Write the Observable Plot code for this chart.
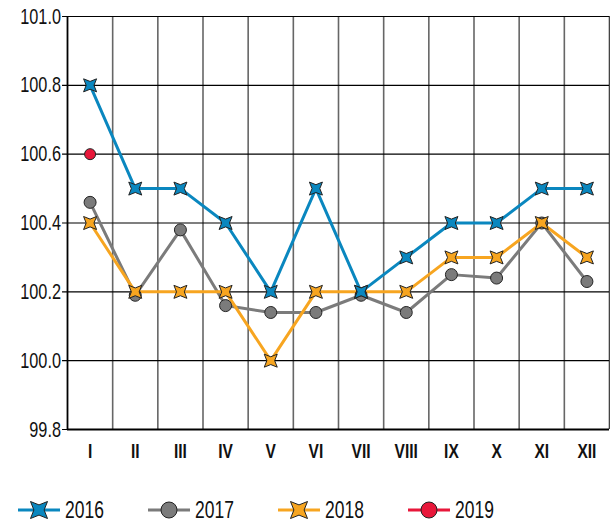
<!DOCTYPE html>
<html>
<head>
<meta charset="utf-8">
<script src="https://cdn.jsdelivr.net/npm/d3@7"></script>
<script src="https://cdn.jsdelivr.net/npm/@observablehq/plot@0.6"></script>
<style>
  html, body { margin: 0; padding: 0; background: #fff; }
  body { width: 610px; font-family: "Liberation Sans", Arial, sans-serif; }
  #legend { position: relative; height: 57px; }
  .item { position: absolute; top: 0; height: 57px; }
  .item svg { position: absolute; left: 0; top: 0; }
  .item span { position: absolute; top: 27px; font-size: 23px; line-height: 26px; color: #111;
               transform: scaleX(0.76); transform-origin: 0 50%; white-space: nowrap; }
</style>
</head>
<body>
<div id="chart"></div>
<div id="legend"></div>
<script>
const months = ["I","II","III","IV","V","VI","VII","VIII","IX","X","XI","XII"];
const years = ["2016","2017","2018","2019"];
const v2016 = [100.8, 100.5, 100.5, 100.4, 100.2, 100.5, 100.2, 100.3, 100.4, 100.4, 100.5, 100.5];
const v2017 = [100.46, 100.19, 100.38, 100.16, 100.14, 100.14, 100.19, 100.14, 100.25, 100.24, 100.4, 100.23];
const v2018 = [100.4, 100.2, 100.2, 100.2, 100.0, 100.2, 100.2, 100.2, 100.3, 100.3, 100.4, 100.3];
const v2019 = [100.6];
const yTicks = [99.8, 100.0, 100.2, 100.4, 100.6, 100.8, 101.0];

const colors = {"2016": "#0a87bf", "2017": "#7b7b7b", "2018": "#f7a520", "2019": "#e8173a"};

// four-pointed concave star, tips on the diagonals
const star4 = {
  draw(ctx, size) {
    const a = Math.sqrt(size / Math.PI);
    const b = a * 0.6;
    ctx.moveTo(-a, -a);
    ctx.lineTo(0, -b);
    ctx.lineTo(a, -a);
    ctx.lineTo(b, 0);
    ctx.lineTo(a, a);
    ctx.lineTo(0, b);
    ctx.lineTo(-a, a);
    ctx.lineTo(-b, 0);
    ctx.closePath();
  }
};

const rows = (vals, year) => vals.map((v, i) => ({x: i + 0.5, y: v, year}));
const d2016 = rows(v2016, "2016");
const d2017 = rows(v2017, "2017");
const d2018 = rows(v2018, "2018");
const d2019 = rows(v2019, "2019");

const bounds = d3.range(13);

const chart = Plot.plot({
  width: 610,
  height: 470,
  marginTop: 16,
  marginLeft: 67,
  marginRight: 1,
  marginBottom: 41,
  style: {fontFamily: "'Liberation Sans', Arial, sans-serif", background: "#fff"},
  x: {domain: [0, 12], axis: null},
  y: {domain: [99.8, 101.0], axis: null},
  marks: [
    Plot.ruleX(bounds.slice(1, 12), {stroke: "#666", strokeWidth: 1.6}),
    Plot.ruleX([12], {stroke: "#444", strokeWidth: 1.6}),
    Plot.ruleY(yTicks, {x1: -0.11, x2: 12, stroke: "#000", strokeWidth: 1.2}),
    Plot.ruleX([0], {stroke: "#000", strokeWidth: 1.8}),
    Plot.ruleY([99.8], {x1: 0, x2: 12, stroke: "#000", strokeWidth: 1.8}),
    Plot.text(yTicks, {x: 0, y: d => d, text: d => d.toFixed(1), dx: -6.5, textAnchor: "end", fontSize: 22, fill: "#111"}),
    Plot.text(months, {x: (d, i) => i + 0.5, y: 99.8, text: d => d, dy: 22, fontSize: 21, fontWeight: "bold", fill: "#111", letterSpacing: "-2.6px"}),
    Plot.line(d2017, {x: "x", y: "y", stroke: colors["2017"], strokeWidth: 3}),
    Plot.line(d2018, {x: "x", y: "y", stroke: colors["2018"], strokeWidth: 3}),
    Plot.line(d2016, {x: "x", y: "y", stroke: colors["2016"], strokeWidth: 3}),
    Plot.dot(d2017, {x: "x", y: "y", r: 6, fill: colors["2017"], stroke: "#222", strokeWidth: 1}),
    Plot.dot(d2018, {x: "x", y: "y", r: 6.5, symbol: star4, fill: colors["2018"], stroke: "#222", strokeWidth: 1}),
    Plot.dot(d2016, {x: "x", y: "y", r: 6.5, symbol: star4, fill: colors["2016"], stroke: "#222", strokeWidth: 1}),
    Plot.dot(d2019, {x: "x", y: "y", r: 5.5, fill: colors["2019"], stroke: "#222", strokeWidth: 1})
  ]
});

// condense the axis labels horizontally (narrow type)
chart.querySelectorAll("text").forEach(t => {
  const tr = t.getAttribute("transform");
  if (tr && tr.includes("translate")) {
    t.setAttribute("transform", tr + " scale(0.74,1)");
  } else {
    const x = +t.getAttribute("x") || 0, y = +t.getAttribute("y") || 0;
    t.setAttribute("x", 0); t.setAttribute("y", 0);
    t.setAttribute("transform", `translate(${x},${y}) scale(0.74,1)`);
  }
});
document.getElementById("chart").appendChild(chart);

// legend
const legend = document.getElementById("legend");
years.forEach((yr, i) => {
  const item = document.createElement("div");
  item.className = "item";
  item.style.left = (18 + i * 130) + "px";
  const svg = d3.create("svg").attr("width", 46).attr("height", 57);
  svg.append("line").attr("x1", 0).attr("x2", 42).attr("y1", 40).attr("y2", 40)
    .attr("stroke", colors[yr]).attr("stroke-width", 3);
  if (yr === "2016" || yr === "2018") {
    const p = d3.path();
    star4.draw(p, Math.PI * 8.5 * 8.5);
    svg.append("path").attr("d", p.toString()).attr("transform", "translate(21,40)")
      .attr("fill", colors[yr]).attr("stroke", "#222").attr("stroke-width", 1);
  } else {
    svg.append("circle").attr("cx", 21).attr("cy", 40).attr("r", 8)
      .attr("fill", colors[yr]).attr("stroke", "#222").attr("stroke-width", 1);
  }
  item.appendChild(svg.node());
  const span = document.createElement("span");
  span.style.left = "47px";
  span.textContent = yr;
  item.appendChild(span);
  legend.appendChild(item);
});
</script>
</body>
</html>
